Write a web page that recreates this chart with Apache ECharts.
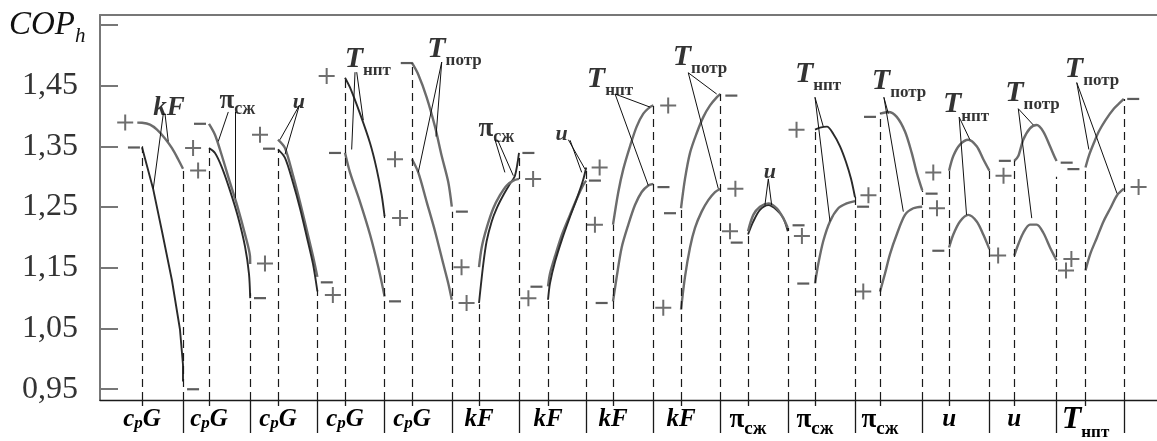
<!DOCTYPE html>
<html><head><meta charset="utf-8">
<script src="https://cdn.jsdelivr.net/npm/echarts@6/dist/echarts.min.js"></script>
<style>html,body{margin:0;padding:0;background:#fff;}#c{width:1157px;height:441px;}</style>
</head><body><div id="c"></div>
<script>
const FONT = "'Liberation Serif','Times New Roman',serif";
// ---- axes ----
const yTickValues = [0.95, 1.05, 1.15, 1.25, 1.35, 1.45, 1.55];
const yLabelValues = [0.95, 1.05, 1.15, 1.25, 1.35, 1.45];
const groupBounds = [1, 2, 3, 4, 5, 6, 7, 8, 9, 10, 11, 12, 13, 14, 15];
const groupMids = [0.39, 1.387, 2.414, 3.411, 4.408, 5.405, 6.432, 7.399, 8.411, 9.408, 10.405, 11.372, 12.40, 13.37, 14.43];
const groupNames = ['cpG', 'cpG', 'cpG', 'cpG', 'cpG', 'kF', 'kF', 'kF', 'kF', 'pi', 'pi', 'pi', 'u', 'u', 'Tnpt'];

// ---- curves (x in group units, y = COP_h) ----
const curveA = [[0.32,1.389],[0.39,1.3887],[0.509,1.3855],[0.613,1.3774],[0.732,1.3629],[0.836,1.3468],[0.926,1.329],[1.0,1.3129]];
const curveB = [[0.39,1.3484],[0.554,1.2806],[0.688,1.2097],[0.836,1.129],[0.955,1.0484],[1.0,0.9903],[1.0,0.9629]];
const curveC1 = [[1.387,1.387],[1.476,1.369],[1.58,1.334],[1.70,1.290],[1.818,1.248],[1.923,1.205],[1.997,1.169],[2.0,1.156]];
const curveC2 = [[1.387,1.347],[1.476,1.339],[1.58,1.315],[1.70,1.277],[1.818,1.234],[1.923,1.185],[1.982,1.140],[2.0,1.10]];
const curveD1 = [[2.414,1.361],[2.518,1.347],[2.637,1.302],[2.741,1.258],[2.84,1.213],[2.935,1.169],[3.0,1.135]];
const curveD2 = [[2.414,1.345],[2.518,1.331],[2.637,1.290],[2.741,1.248],[2.84,1.202],[2.935,1.156],[3.0,1.111]];
const curveE1 = [[3.411,1.4629],[3.485,1.4468],[3.634,1.4037],[3.783,1.3553],[3.882,1.3124],[3.957,1.2694],[4.0,1.2344]];
const curveE2 = [[3.411,1.3392],[3.485,1.3069],[3.634,1.2585],[3.783,1.2048],[3.906,1.1511],[4.0,1.1027]];
const curveF1 = [[4.408,1.4871],[4.501,1.4682],[4.626,1.4306],[4.75,1.3823],[4.85,1.3339],[4.948,1.2908],[5.0,1.2505]];
const curveF2 = [[4.408,1.3286],[4.501,1.3069],[4.626,1.2585],[4.75,1.2102],[4.873,1.1565],[4.948,1.1242],[5.0,1.0973]];
const curveG1 = [[5.405,1.092],[5.42,1.108],[5.469,1.1565],[5.519,1.194],[5.594,1.2263],[5.668,1.2479],[5.766,1.2694],[5.866,1.2882],[5.94,1.3016],[6.0,1.3392]];
const curveG2 = [[5.405,1.1511],[5.445,1.1834],[5.519,1.2156],[5.618,1.2479],[5.717,1.2694],[5.817,1.2855],[5.915,1.2935],[6.0,1.2963]];
const curveH1 = [[6.432,1.1194],[6.461,1.1403],[6.536,1.169],[6.64,1.2048],[6.759,1.2371],[6.863,1.2645],[6.952,1.2855],[7.0,1.2935]];
const curveH2 = [[6.432,1.0973],[6.461,1.1242],[6.536,1.1597],[6.64,1.1968],[6.759,1.2339],[6.863,1.2645],[6.952,1.2935],[7.0,1.315]];
const curveI1 = [[7.399,1.221],[7.478,1.2747],[7.552,1.3124],[7.652,1.35],[7.751,1.3823],[7.85,1.4037],[7.949,1.4145],[8.0,1.4173]];
const curveI2 = [[7.399,1.0947],[7.454,1.135],[7.528,1.1834],[7.627,1.221],[7.726,1.2532],[7.826,1.2747],[7.924,1.2855],[8.0,1.2882]];
const curveJ1 = [[8.411,1.248],[8.47,1.2963],[8.545,1.3392],[8.644,1.3715],[8.744,1.3984],[8.843,1.4173],[8.942,1.4306],[9.0,1.436]];
const curveJ2 = [[8.411,1.081],[8.47,1.135],[8.545,1.1834],[8.619,1.2156],[8.718,1.2424],[8.817,1.2613],[8.917,1.2747],[9.0,1.2801]];
const curveK1 = [[9.408,1.2048],[9.487,1.2263],[9.586,1.2452],[9.711,1.2532],[9.835,1.2452],[9.933,1.2318],[10.0,1.2102]];
const curveK2 = [[9.408,1.2102],[9.487,1.2371],[9.586,1.2505],[9.711,1.256],[9.835,1.2479],[9.933,1.2318],[10.0,1.2156]];
const curveL1 = [[10.405,1.3774],[10.479,1.3806],[10.583,1.3823],[10.673,1.371],[10.777,1.35],[10.866,1.3242],[10.94,1.2968],[11.0,1.2661]];
const curveL2 = [[10.405,1.1242],[10.454,1.1565],[10.528,1.194],[10.628,1.2263],[10.751,1.2479],[10.876,1.256],[11.0,1.2597]];
const curveM1 = [[11.372,1.4037],[11.496,1.4065],[11.621,1.3984],[11.744,1.3742],[11.844,1.3392],[11.918,1.3069],[11.993,1.2802],[12.0,1.2774]];
const curveM2 = [[11.372,1.1108],[11.446,1.1403],[11.521,1.1726],[11.621,1.2048],[11.744,1.2371],[11.868,1.2479],[12.0,1.2505]];
const curveN1 = [[12.40,1.3097],[12.463,1.3339],[12.562,1.3527],[12.686,1.3608],[12.811,1.35],[12.909,1.3286],[13.0,1.3097]];
const curveN2 = [[12.40,1.1834],[12.463,1.2048],[12.562,1.2263],[12.686,1.2371],[12.811,1.2263],[12.909,1.2048],[13.0,1.1806]];
const curveO1 = [[13.37,1.3258],[13.43,1.3339],[13.504,1.3608],[13.604,1.3795],[13.704,1.385],[13.802,1.3742],[13.902,1.35],[13.976,1.3311],[14.0,1.3258]];
const curveO2 = [[13.37,1.1698],[13.43,1.1887],[13.504,1.2076],[13.604,1.221],[13.704,1.221],[13.802,1.2076],[13.902,1.1834],[13.976,1.1672],[14.0,1.1618]];
const curveP1 = [[14.43,1.315],[14.479,1.3339],[14.554,1.3553],[14.628,1.3742],[14.728,1.3931],[14.851,1.4118],[14.95,1.4226],[15.0,1.4279]];
const curveP2 = [[14.43,1.1456],[14.5,1.1726],[14.6,1.1995],[14.698,1.2263],[14.8,1.2479],[14.9,1.2694],[15.0,1.2802]];

// ---- dashed verticals: [x, top value] ----
const dashTops = [[0.39,1.35],[1,1.315],[1.387,1.347],[2,1.108],[2.414,1.345],[3,1.113],[3.411,1.46],[4,1.237],
  [4.408,1.484],[5,1.2424],[5.405,1.09],[6,1.339],[6.432,1.097],[7,1.315],[7.399,1.221],[8,1.417],[8.411,1.248],
  [9,1.436],[9.408,1.21],[10,1.2156],[10.405,1.377],[11,1.267],[11.372,1.404],[12,1.277],[12.4,1.31],[13,1.31],
  [13.37,1.326],[14,1.30],[14.43,1.315],[15,1.428]];

// ---- +/- markers ----
const plusMarks = [[0.14,1.389],[1.15,1.347],[1.225,1.31],[2.22,1.157],[2.146,1.369],[3.23,1.105],[3.138,1.4656],
  [4.23,1.232],[4.155,1.3286],[5.22,1.092],[5.145,1.151],[6.21,1.2963],[6.14,1.10],[7.2,1.315],[7.13,1.221],
  [8.22,1.4173],[8.147,1.084],[9.22,1.28],[9.14,1.21],[10.21,1.2021],[10.13,1.377],[11.2,1.2694],[11.123,1.1108],
  [12.22,1.2479],[12.165,1.307],[13.21,1.3016],[13.13,1.17],[14.22,1.1645],[14.14,1.1456],[15.22,1.2828]];
const minusMarks = [[0.27,1.348],[1.15,0.95],[1.253,1.387],[2.146,1.10],[2.28,1.346],[3.14,1.126],[3.262,1.339],
  [4.155,1.0947],[4.33,1.487],[5.15,1.2424],[6.14,1.339],[6.26,1.1188],[7.13,1.2935],[7.23,1.092],[8.15,1.2828],
  [8.247,1.2398],[9.16,1.4334],[9.24,1.1914],[10.16,1.2199],[10.23,1.124],[11.12,1.2505],[11.223,1.3984],
  [12.14,1.272],[12.24,1.178],[13.23,1.326],[14.15,1.323],[14.25,1.3124],[15.14,1.4279]];

// ---- parameter labels inside the plot ----
const plotLabelPos = [[0.792,1.4135],[1.811,1.424],[2.726,1.4226],[3.75,1.493],[5.04,1.5097],[5.665,1.3782],
  [6.635,1.369],[7.354,1.4605],[8.693,1.4968],[9.735,1.3065],[10.45,1.4685],[11.655,1.4565],[12.652,1.4185],
  [13.641,1.4371],[14.527,1.4766]];
const plotLabelKind = ['kF','pi','u','Tnpt','Tpotr','pi','u','Tnpt','Tpotr','u','Tnpt','Tpotr','Tnpt','Tpotr','Tpotr'];
const leaderLines = [
  [[0.707,1.4037],[0.558,1.2802]], [[0.732,1.4037],[0.781,1.358]],
  [[1.674,1.4065],[1.525,1.358]], [[1.774,1.4065],[1.774,1.2645]],
  [[2.731,1.4173],[2.443,1.3608]], [[2.731,1.4173],[2.518,1.3366]],
  [[3.56,1.472],[3.51,1.3447]], [[3.585,1.472],[3.683,1.393]],
  [[4.85,1.4887],[4.501,1.307]], [[4.85,1.4887],[4.765,1.366]],
  [[5.643,1.3608],[5.79,1.307]], [[5.68,1.3608],[5.915,1.3016]],
  [[6.734,1.3608],[6.982,1.3124]], [[6.76,1.36],[6.933,1.307]],
  [[7.43,1.436],[7.949,1.4145]], [[7.43,1.436],[7.924,1.2855]],
  [[8.519,1.471],[8.942,1.436]], [[8.519,1.471],[8.966,1.2801]],
  [[9.71,1.2963],[9.66,1.2532]], [[9.71,1.2963],[9.76,1.2532]],
  [[10.405,1.4306],[10.528,1.3823]], [[10.405,1.4306],[10.628,1.2263]],
  [[11.43,1.4306],[11.496,1.4037]], [[11.43,1.4306],[11.719,1.2424]],
  [[12.55,1.398],[12.71,1.3608]], [[12.55,1.398],[12.66,1.2371]],
  [[13.43,1.4118],[13.654,1.385]], [[13.43,1.4118],[13.63,1.2317]],
  [[14.3,1.4548],[14.48,1.3447]], [[14.3,1.4548],[14.9,1.272]]
];

const Y_MIN = 0.9323, Y_MAX = 1.5661, X_MIN = -0.235, X_MAX = 15.494;

const GRAY = '#6c6c6c', DARK = '#2a2a2a';
const curveList = [
  [curveA,GRAY],[curveB,DARK],[curveC1,GRAY],[curveC2,DARK],[curveD1,GRAY],[curveD2,DARK],
  [curveE1,DARK],[curveE2,GRAY],[curveF1,GRAY],[curveF2,GRAY],[curveG1,DARK],[curveG2,GRAY],
  [curveH1,GRAY],[curveH2,DARK],[curveI1,GRAY],[curveI2,GRAY],[curveJ1,GRAY],[curveJ2,GRAY],
  [curveK1,DARK],[curveK2,GRAY],[curveL1,DARK],[curveL2,GRAY],[curveM1,GRAY],[curveM2,GRAY],
  [curveN1,GRAY],[curveN2,GRAY],[curveO1,GRAY],[curveO2,GRAY],[curveP1,GRAY],[curveP2,GRAY]
];

const axisRichText = {cpG:'{c|c}{p|p}{c|G}', kF:'{c|kF}', pi:'{pi|π}{s|сж}', u:'{c|u}', Tnpt:'{T|T}{ts|нпт}'};
const plotRichText = {kF:'{c|kF}', pi:'{pi|π}{ps|сж}', u:'{u|u}', Tnpt:'{T|T}{s|нпт}', Tpotr:'{T|T}{s|потр}'};

const PLUS = 'path://M0,7L16,7L16,9L0,9Z M7,0L9,0L9,16L7,16Z';
const MINUS = 'path://M0,0L12,0L12,2L0,2Z';

const series = [];
series.push({
  type:'line', data:[], silent:true, animation:false, z:1,
  markLine:{silent:true, animation:false, symbol:['none','none'], label:{show:false},
    lineStyle:{color:'#1a1a1a', width:1.2, type:[8,5]},
    data: dashTops.map(d => [{coord:[d[0], Y_MIN]}, {coord:[d[0], d[1]]}])}
});
series.push({
  type:'line', data:[], silent:true, animation:false, z:2,
  markLine:{silent:true, animation:false, symbol:['none','none'], label:{show:false},
    lineStyle:{color:'#111', width:1, type:'solid'},
    data: leaderLines.map(s => [{coord:s[0]}, {coord:s[1]}])}
});
curveList.forEach((cv) => {
  series.push({type:'line', data:cv[0], showSymbol:false, smooth: (cv[0] === curveB ? false : 0.3),
    animation:false, silent:true, z:3,
    lineStyle:{color:cv[1], width: cv[1] === DARK ? 1.9 : 2.4}});
});
series.push({type:'scatter', data:plusMarks, symbol:PLUS, symbolSize:[16,16], itemStyle:{color:'#4a4a4a'}, animation:false, silent:true, z:4});
series.push({type:'scatter', data:minusMarks, symbol:MINUS, symbolSize:[12,2.2], itemStyle:{color:'#333'}, animation:false, silent:true, z:4});
series.push({type:'scatter', data:plotLabelPos, symbolSize:0, animation:false, silent:true, z:5,
  label:{show:true, position:'inside', color:'#000',
    formatter: p => plotRichText[plotLabelKind[p.dataIndex]],
    rich:{
      c:{fontFamily:FONT, fontSize:27, fontWeight:'bold', fontStyle:'italic', color:'#000'},
      u:{fontFamily:FONT, fontSize:22, fontWeight:'bold', fontStyle:'italic', color:'#000'},
      pi:{fontFamily:FONT, fontSize:27, fontWeight:'bold', color:'#000'},
      ps:{fontFamily:FONT, fontSize:18, fontWeight:'bold', color:'#000', padding:[16,0,0,0]},
      s:{fontFamily:FONT, fontSize:17, fontWeight:'bold', color:'#000', padding:[23,0,0,0]},
      T:{fontFamily:FONT, fontSize:30, fontWeight:'bold', fontStyle:'italic', color:'#000'}
    }}
});

const option = {
  backgroundColor:'#fff',
  animation:false,
  title:{text:'{a|COP}{b|h}', left:9, top:4, padding:0,
    textStyle:{fontWeight:'normal', rich:{
      a:{fontFamily:FONT, fontSize:33, fontStyle:'italic', fontWeight:'normal', color:'#111'},
      b:{fontFamily:FONT, fontSize:21, fontStyle:'italic', fontWeight:'normal', color:'#111', padding:[22,0,0,0]}
    }}},
  grid:{left:100, right:0, top:15, bottom:33, containLabel:false},
  xAxis:[
    {type:'value', position:'bottom', min:X_MIN, max:X_MAX, splitLine:{show:false},
      axisLine:{show:true, onZero:false, lineStyle:{color:'#1a1a1a', width:1.3}},
      axisTick:{show:true, inside:false, length:33, customValues:groupBounds, lineStyle:{color:'#1a1a1a', width:1.3}},
      axisLabel:{show:true, margin:-2, customValues:groupMids,
        formatter:(v) => { const i = groupMids.findIndex(m => Math.abs(m - v) < 1e-6); return i < 0 ? '' : axisRichText[groupNames[i]]; },
        rich:{
          c:{fontFamily:FONT, fontSize:25, fontWeight:'bold', fontStyle:'italic', color:'#000', lineHeight:44},
          p:{fontFamily:FONT, fontSize:17, fontWeight:'bold', fontStyle:'italic', color:'#000', padding:[7,0,0,0]},
          pi:{fontFamily:FONT, fontSize:27, fontWeight:'bold', color:'#000', lineHeight:44},
          s:{fontFamily:FONT, fontSize:19, fontWeight:'bold', color:'#000', padding:[19,0,0,0]},
          T:{fontFamily:FONT, fontSize:32, fontWeight:'bold', fontStyle:'italic', color:'#000', lineHeight:44},
          ts:{fontFamily:FONT, fontSize:17, fontWeight:'bold', color:'#000', padding:[25,0,0,0]}
        }}},
    {type:'value', position:'bottom', min:X_MIN, max:X_MAX, splitLine:{show:false},
      axisLine:{show:false}, axisLabel:{show:false},
      axisTick:{show:true, inside:false, length:6, customValues:groupMids, lineStyle:{color:'#1a1a1a', width:1.3}}},
    {type:'value', position:'top', min:X_MIN, max:X_MAX, splitLine:{show:false},
      axisLine:{show:true, onZero:false, lineStyle:{color:'#777', width:2}}, axisTick:{show:false}, axisLabel:{show:false}}
  ],
  yAxis:[
    {type:'value', position:'left', min:Y_MIN, max:Y_MAX, splitLine:{show:false},
      axisLine:{show:true, onZero:false, lineStyle:{color:'#777', width:2}},
      axisTick:{show:true, inside:true, length:18, customValues:yTickValues, lineStyle:{color:'#777', width:2}},
      axisLabel:{show:true, margin:22, customValues:yLabelValues, fontFamily:FONT, fontSize:32, color:'#333',
        formatter: v => v.toFixed(2).replace('.', ',')}},
    {type:'value', position:'right', min:Y_MIN, max:Y_MAX, splitLine:{show:false},
      axisLine:{show:false}, axisLabel:{show:false},
      axisTick:{show:true, inside:true, length:9, customValues:yTickValues, lineStyle:{color:'#777', width:2}}}
  ],
  series: series
};
const chart = echarts.init(document.getElementById('c'), null, {renderer:'canvas'});
chart.setOption(option);
</script>
</body></html>
